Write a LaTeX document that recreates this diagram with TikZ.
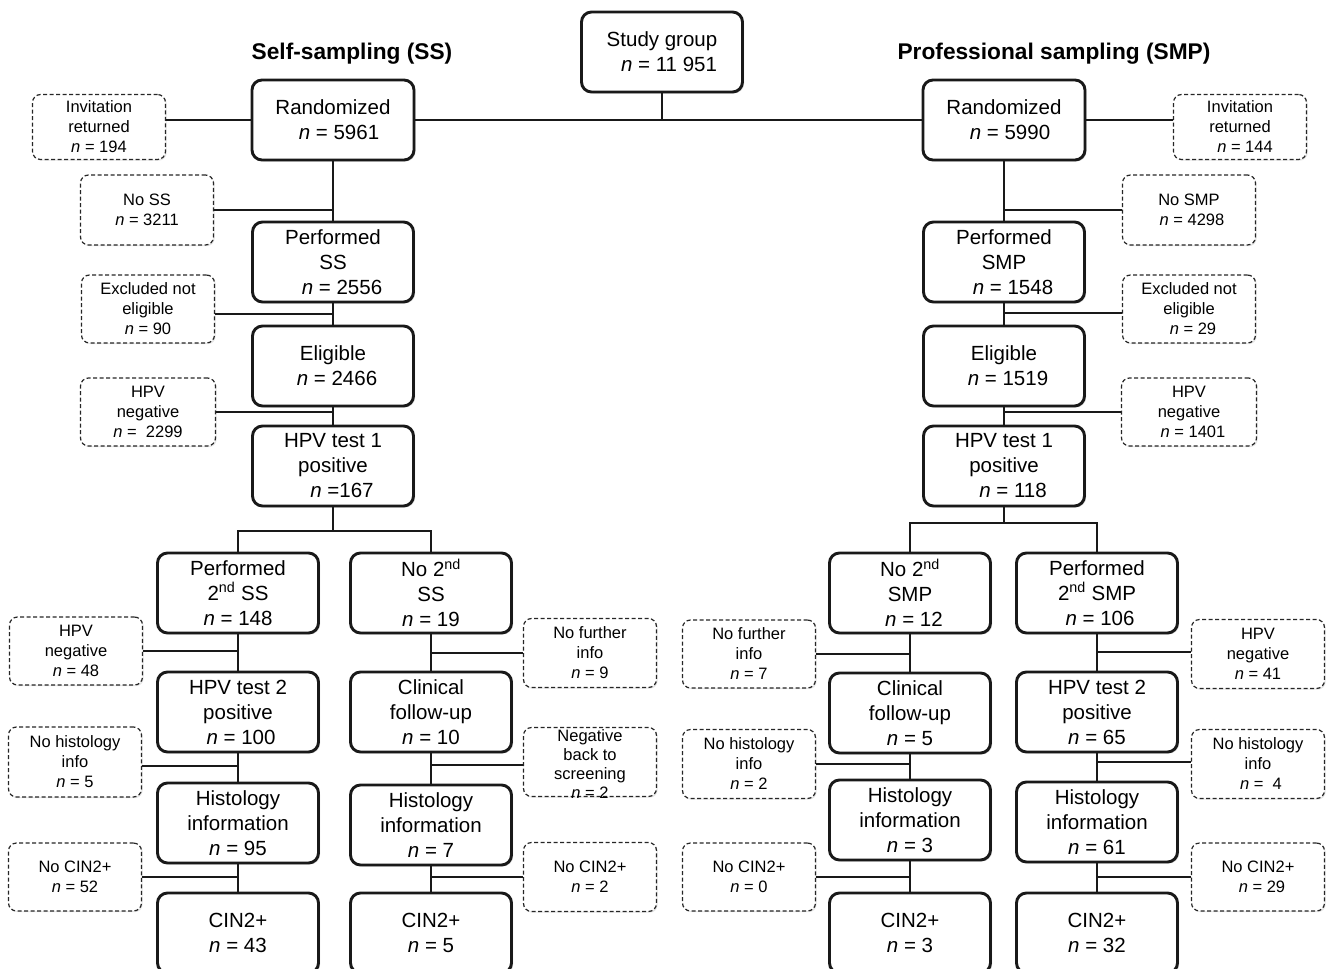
\documentclass[tikz,border=0pt]{standalone}
\usepackage{fontspec}
\setmainfont{Liberation Sans}
\usetikzlibrary{shadows}
\newcommand\mfs{\fontsize{20.5}{25}\selectfont}
\newcommand\sfs{\fontsize{16.5}{20}\selectfont}
\newcommand\tfs{\fontsize{22.7}{25}\selectfont\bfseries}
\newcommand\nn{\textit{n}}
\begin{document}
\begin{tikzpicture}[x=1pt,y=-1pt,
  mainbox/.style={draw=black!90, line width=2.9pt, rounded corners=10pt, fill=white,
    align=center, font=\mfs, inner sep=0pt, minimum width=161pt, minimum height=80pt,
    drop shadow={shadow xshift=1.5pt, shadow yshift=-1.5pt, opacity=0.3}},
  sidebox/.style={draw=black!85, line width=1.2pt, dash pattern=on 4pt off 2.5pt,
    rounded corners=8pt, fill=white, align=center, font=\sfs, inner sep=0pt,
    minimum width=133pt, minimum height=68pt,
    drop shadow={shadow xshift=1.2pt, shadow yshift=-1.2pt, opacity=0.2}},
  conn/.style={draw=black!90, line width=2.8pt},
  ttl/.style={font=\tfs, inner sep=0pt}]
\clip (0,0) rectangle (1331,969);
% titles
\node[ttl] (t1) at (352,54) {Self-sampling (SS)};
\node[ttl] (t2) at (1054,54) {Professional sampling (SMP)};
% top
\node[mainbox] (sg) at (662,52) {Study group\\\hspace*{14pt}\nn{} = 11 951};
\node[mainbox, minimum width=162pt] (sr) at (333,120) {Randomized\\\hspace*{12pt}\nn{} = 5961};
\node[mainbox, minimum width=162pt] (pr) at (1004,120) {Randomized\\\hspace*{12pt}\nn{} = 5990};
\node[mainbox] (sp) at (333,262) {Performed\\SS\\\hspace*{18pt}\nn{} = 2556};
\node[mainbox] (pp) at (1004,262) {Performed\\SMP\\\hspace*{18pt}\nn{} = 1548};
\node[mainbox] (se) at (333,366) {Eligible\\\hspace*{8pt}\nn{} = 2466};
\node[mainbox] (pe) at (1004,366) {Eligible\\\hspace*{8pt}\nn{} = 1519};
\node[mainbox] (sh) at (333,466) {HPV test 1\\positive\\\hspace*{18pt}\nn{} =167};
\node[mainbox] (ph) at (1004,466) {HPV test 1\\positive\\\hspace*{18pt}\nn{} = 118};
% side boxes top
\node[sidebox, minimum height=65pt] (ir) at (99,127) {Invitation\\returned\\\nn{} = 194};
\node[sidebox, minimum height=65pt] (pir) at (1240,127) {Invitation\\returned\\\hspace*{10pt}\nn{} = 144};
\node[sidebox, minimum height=70pt] (ns) at (147,210) {No SS\\\nn{} = 3211};
\node[sidebox, minimum height=70pt] (pns) at (1189,210) {No SMP\\\hspace*{6pt}\nn{} = 4298};
\node[sidebox] (ex) at (148,309) {Excluded not\\eligible\\\nn{} = 90};
\node[sidebox] (pex) at (1189,309) {Excluded not\\eligible\\\hspace*{8pt}\nn{} = 29};
\node[sidebox, minimum width=135pt] (hn) at (148,412) {HPV\\negative\\\nn{} =\ \ 2299};
\node[sidebox, minimum width=135pt] (phn) at (1189,412) {HPV\\negative\\\hspace*{8pt}\nn{} = 1401};
% SS lower
\node[mainbox] (s2a) at (238,593) {Performed\\2\textsuperscript{nd} SS\\\nn{} = 148};
\node[mainbox] (s2b) at (431,593) {No 2\textsuperscript{nd}\\SS\\\nn{} = 19};
\node[mainbox] (s3a) at (238,712) {HPV test 2\\positive\\\hspace*{6pt}\nn{} = 100};
\node[mainbox] (s3b) at (431,712) {Clinical\\follow-up\\\nn{} = 10};
\node[mainbox] (s4a) at (238,823) {Histology\\information\\\nn{} = 95};
\node[mainbox] (s4b) at (431,825) {Histology\\information\\\nn{} = 7};
\node[mainbox] (s5a) at (238,933) {CIN2+\\\nn{} = 43};
\node[mainbox] (s5b) at (431,933) {CIN2+\\\nn{} = 5};
\node[sidebox] (hn2) at (76,651) {HPV\\negative\\\nn{} = 48};
\node[sidebox, minimum height=70pt] (nh) at (75,762) {No histology\\info\\\nn{} = 5};
\node[sidebox] (nc) at (75,877) {No CIN2+\\\nn{} = 52};
\node[sidebox, minimum height=69pt] (nf) at (590,653) {No further\\info\\\nn{} = 9};
\node[sidebox, minimum height=69pt] (nb) at (590,762) {};
\node[font=\fontsize{16.5}{19}\selectfont, align=center, inner sep=0pt] (nbt) at (590,764) {Negative\\back to\\screening\\\nn{} = 2};
\node[sidebox, minimum height=69pt] (nc2) at (590,877) {No CIN2+\\\nn{} = 2};
% SMP lower
\node[mainbox] (p2a) at (910,593) {No 2\textsuperscript{nd}\\SMP\\\hspace*{8pt}\nn{} = 12};
\node[mainbox] (p2b) at (1097,593) {Performed\\2\textsuperscript{nd} SMP\\\hspace*{6pt}\nn{} = 106};
\node[mainbox] (p3a) at (910,713) {Clinical\\follow-up\\\nn{} = 5};
\node[mainbox] (p3b) at (1097,712) {HPV test 2\\positive\\\nn{} = 65};
\node[mainbox] (p4a) at (910,820) {Histology\\information\\\nn{} = 3};
\node[mainbox] (p4b) at (1097,822) {Histology\\information\\\nn{} = 61};
\node[mainbox] (p5a) at (910,933) {CIN2+\\\nn{} = 3};
\node[mainbox] (p5b) at (1097,933) {CIN2+\\\nn{} = 32};
\node[sidebox] (nf2) at (749,654) {No further\\info\\\nn{} = 7};
\node[sidebox, minimum height=69pt] (nh2) at (749,764) {No histology\\info\\\nn{} = 2};
\node[sidebox] (nc3) at (749,877) {No CIN2+\\\nn{} = 0};
\node[sidebox, minimum height=69pt] (hn3) at (1258,654) {HPV\\negative\\\nn{} = 41};
\node[sidebox, minimum height=69pt] (nh3) at (1258,764) {No histology\\info\\\hspace*{6pt}\nn{} =\ \ 4};
\node[sidebox] (nc4) at (1258,877) {No CIN2+\\\hspace*{8pt}\nn{} = 29};
% connectors top
\draw[conn] (sg.south) -- (sg.south |- sr.east);
\draw[conn] (sr.east) -- (pr.west);
\draw[conn] (sr.west) -- (sr.west -| ir.east);
\draw[conn] (pr.east) -- (pr.east -| pir.west);
\draw[conn] (sr.south) -- (sp.north);
\draw[conn] (pr.south) -- (pp.north);
\draw[conn] (ns.east) -- (ns.east -| sr.south);
\draw[conn] (pns.west) -- (pns.west -| pr.south);
\draw[conn] (sp.south) -- (se.north);
\draw[conn] (pp.south) -- (pe.north);
\draw[conn] ([yshift=-5pt]ex.east) -- ([yshift=-5pt]ex.east -| sp.south);
\draw[conn] ([yshift=-4pt]pex.west) -- ([yshift=-4pt]pex.west -| pp.south);
\draw[conn] (se.south) -- (sh.north);
\draw[conn] (pe.south) -- (ph.north);
\draw[conn] (hn.east) -- (hn.east -| se.south);
\draw[conn] (phn.west) -- (phn.west -| pe.south);
% branches
\coordinate (sb) at (333,531);
\coordinate (pb) at (1004,523);
\draw[conn] (sh.south) -- (sb);
\draw[conn] (s2a.north) |- (sb) -| (s2b.north);
\draw[conn] (ph.south) -- (pb);
\draw[conn] (p2a.north) |- (pb) -| (p2b.north);
% SS columns
\draw[conn] (s2a.south) -- (s3a.north);
\draw[conn] (s3a.south) -- (s4a.north);
\draw[conn] (s4a.south) -- (s5a.north);
\draw[conn] (s2b.south) -- (s3b.north);
\draw[conn] (s3b.south) -- (s4b.north);
\draw[conn] (s4b.south) -- (s5b.north);
\draw[conn] (hn2.east) -- (hn2.east -| s2a.south);
\draw[conn] ([yshift=-4pt]nh.east) -- ([yshift=-4pt]nh.east -| s3a.south);
\draw[conn] (nc.east) -- (nc.east -| s4a.south);
\draw[conn] (nf.west) -- (nf.west -| s2b.south);
\draw[conn] ([yshift=-3pt]nb.west) -- ([yshift=-3pt]nb.west -| s3b.south);
\draw[conn] (nc2.west) -- (nc2.west -| s4b.south);
% SMP columns
\draw[conn] (p2a.south) -- (p3a.north);
\draw[conn] (p3a.south) -- (p4a.north);
\draw[conn] (p4a.south) -- (p5a.north);
\draw[conn] (p2b.south) -- (p3b.north);
\draw[conn] (p3b.south) -- (p4b.north);
\draw[conn] (p4b.south) -- (p5b.north);
\draw[conn] (nf2.east) -- (nf2.east -| p2a.south);
\draw[conn] (nh2.east) -- (nh2.east -| p3a.south);
\draw[conn] (nc3.east) -- (nc3.east -| p4a.south);
\draw[conn] ([yshift=2pt]hn3.west) -- ([yshift=2pt]hn3.west -| p2b.south);
\draw[conn] ([yshift=2pt]nh3.west) -- ([yshift=2pt]nh3.west -| p3b.south);
\draw[conn] (nc4.west) -- (nc4.west -| p4b.south);
\end{tikzpicture}
\end{document}
